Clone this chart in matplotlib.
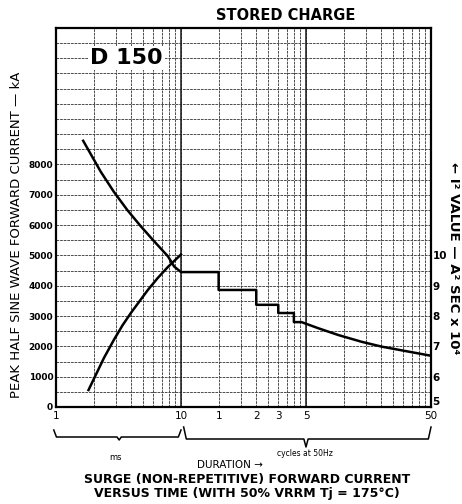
import numpy as np
import matplotlib
matplotlib.use("Agg")
import matplotlib.pyplot as plt
from matplotlib.ticker import LogLocator, MultipleLocator, FixedLocator, NullFormatter
from matplotlib.transforms import blended_transform_factory

# --- data (x = duration in ms) ---
surge_t = [1.65, 2.28, 2.9, 3.73, 4.77, 6.1, 7.86, 8.83, 10, 20, 20, 40, 40, 60, 60, 80, 80, 92,
           125, 181, 279, 404, 1000]
surge_i = [8780, 7760, 7100, 6490, 5960, 5465, 4970, 4630, 4450, 4450, 3860, 3860, 3370, 3370,
           3100, 3100, 2800, 2800, 2600, 2375, 2150, 1990, 1690]

i2t_t = [1.82, 2.42, 2.9, 3.4, 3.97, 5.43, 6.5, 7.86, 10]
i2t_v = [5.56, 6.62, 7.21, 7.69, 8.10, 8.86, 9.25, 9.62, 10.03]

x_ticks = [1, 10, 20, 40, 60, 100, 1000]
x_labels = ["1", "10", "1", "2", "3", "5", "50"]
left_ticks = [0, 1000, 2000, 3000, 4000, 5000, 6000, 7000, 8000]
right_ticks = [5, 6, 7, 8, 9, 10]

fig = plt.figure(figsize=(4.62, 5.04), dpi=100)
ax = fig.add_axes([56 / 462, 97 / 504, 375 / 462, 379 / 504])

grid_kw = dict(color="0.25", lw=0.65, ls=(0, (3, 1)))

ax.set_xscale("log")
ax.set_xlim(1, 1000)
ax.set_ylim(0, 12500)

ax.xaxis.set_major_locator(FixedLocator(x_ticks))
ax.set_xticklabels(x_labels)
ax.xaxis.set_minor_locator(LogLocator(base=10, subs=np.arange(2, 10)))
ax.xaxis.set_minor_formatter(NullFormatter())
ax.yaxis.set_major_locator(FixedLocator(left_ticks))
ax.yaxis.set_minor_locator(MultipleLocator(500))

ax.grid(which="both", **grid_kw)
ax.axvline(10, color="0.1", lw=1.1)
ax.axvline(100, color="0.1", lw=1.1)

ax.tick_params(which="both", length=0)
ax.tick_params(axis="y", labelsize=6.5, pad=2)
ax.tick_params(axis="x", labelsize=7.5, pad=3)
for lab in ax.get_yticklabels():
    lab.set_fontweight("bold")

for s in ax.spines.values():
    s.set_linewidth(1.6)

ax.plot(surge_t, surge_i, color="black", lw=1.8, zorder=5, solid_joinstyle="round")

ax2 = ax.twinx()
ax2.set_ylim(5, 17.5)
ax2.yaxis.set_major_locator(FixedLocator(right_ticks))
ax2.tick_params(length=0, labelsize=7.5, pad=1)
for lab in ax2.get_yticklabels():
    lab.set_fontweight("bold")
ax2.get_yticklabels()[0].set_verticalalignment("bottom")
for s in ax2.spines.values():
    s.set_visible(False)
ax2.plot(i2t_t, i2t_v, color="black", lw=1.8, zorder=5, solid_joinstyle="round")

# label box
ax.text(3.68, 11500, "D 150", fontsize=16, fontweight="bold", ha="center", va="center",
        bbox=dict(facecolor="white", edgecolor="none", pad=1.5), zorder=6)

fig.text(286 / 462, 1 - 15 / 504, "STORED CHARGE", fontsize=10.5, fontweight="bold",
         ha="center", va="center")
fig.text(17 / 462, 1 - 235 / 504, "PEAK HALF SINE WAVE FORWARD CURRENT \u2014 kA",
         fontsize=9.5, rotation=90, ha="center", va="center")
fig.text(453 / 462, 1 - 258 / 504, "\u2190 I\u00b2 VALUE \u2014 A\u00b2 SEC x 10\u2074",
         fontsize=9.5, fontweight="bold", rotation=-90, ha="center", va="center")

# braces under the x axis
trans = blended_transform_factory(ax.transData, fig.transFigure)


def brace(x0, x1, xm, y_top, y_mid, y_tip):
    xs = [x0, x0 * 1.05, xm / 1.04, xm, xm * 1.04, x1 / 1.05, x1]
    ys = [y_top, y_mid, y_mid, y_tip, y_mid, y_mid, y_top]
    fig.add_artist(plt.Line2D(xs, ys, transform=trans, color="black", lw=1.1))


brace(0.96, 10, 3.2, 1 - 430 / 504, 1 - 437 / 504, 1 - 440 / 504)
brace(10.5, 1000, 100, 1 - 427 / 504, 1 - 439 / 504, 1 - 447 / 504)

fig.text(115 / 462, 1 - 457 / 504, "ms", fontsize=6, ha="center", va="center")
fig.text(305 / 462, 1 - 454 / 504, "cycles at 50Hz", fontsize=5.5, ha="center", va="center")
fig.text(230 / 462, 1 - 465 / 504, "DURATION \u2192", fontsize=7.5, ha="center", va="center")
fig.text(247 / 462, 1 - 479 / 504, "SURGE (NON-REPETITIVE) FORWARD CURRENT",
         fontsize=9, fontweight="bold", ha="center", va="center")
fig.text(247 / 462, 1 - 494 / 504, "VERSUS TIME (WITH 50% VRRM Tj = 175\u00b0C)",
         fontsize=9, fontweight="bold", ha="center", va="center")

fig.savefig("out.png", dpi=100)
